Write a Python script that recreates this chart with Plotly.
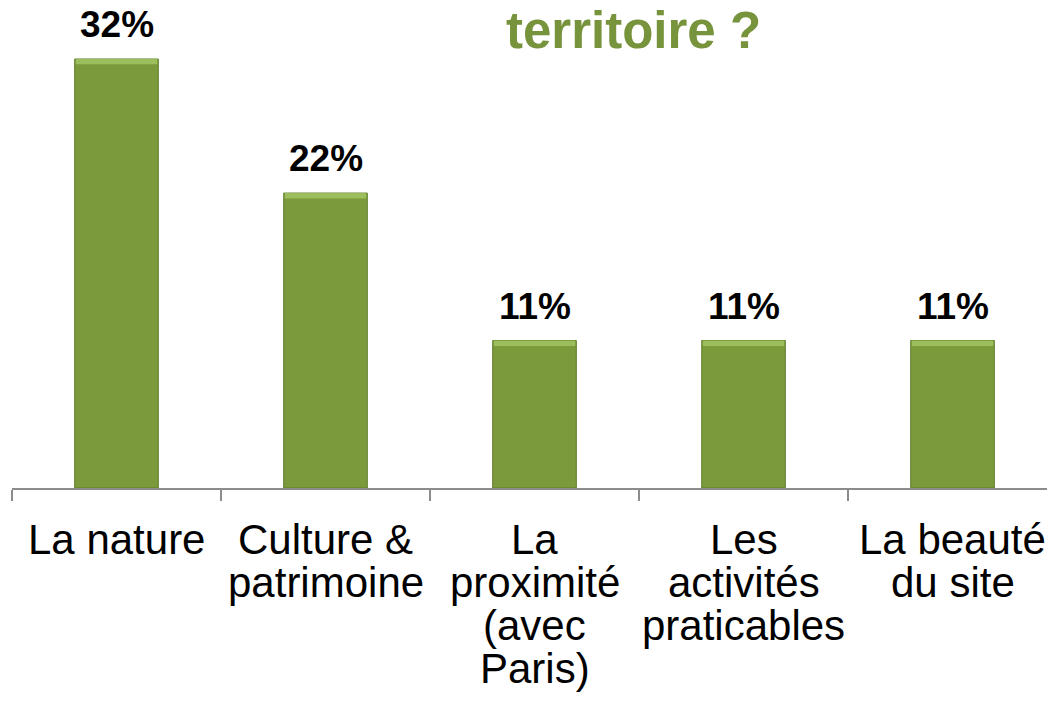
import plotly.graph_objects as go

categories = ["La nature", "Culture & patrimoine", "La proximité (avec Paris)",
              "Les activités praticables", "La beauté du site"]
label_lines = [["La nature"], ["Culture &", "patrimoine"], ["La", "proximité", "(avec", "Paris)"],
               ["Les", "activités", "praticables"], ["La beauté", "du site"]]
values = [32, 22, 11, 11, 11]
value_labels = ["32%", "22%", "11%", "11%", "11%"]
title_text = "territoire ?"

FONT = "Arial, Liberation Sans, sans-serif"
GREEN = "#7A9A3C"
BEVEL = 0.4  # height (in axis units) of the light top bevel strip

fig = go.Figure()
fig.add_trace(go.Bar(
    x=categories, y=values,
    marker=dict(color=GREEN, line=dict(color="#5F7D2B", width=1)),
    width=0.4, hoverinfo="skip",
))
fig.add_trace(go.Bar(
    x=categories, y=[BEVEL] * len(values), base=[v - BEVEL for v in values],
    marker=dict(color="#A2C462", line=dict(width=0)),
    width=0.39, hoverinfo="skip", opacity=0.85,
))

annotations = []
for cat, v, lab in zip(categories, values, value_labels):
    annotations.append(dict(x=cat, y=v, xref="x", yref="y", text=f"<b>{lab}</b>",
                            showarrow=False, yanchor="bottom", yshift=12,
                            font=dict(family=FONT, size=37, color="#000000")))
for cat, lines in zip(categories, label_lines):
    for i, line in enumerate(lines):
        annotations.append(dict(x=cat, y=0, xref="x", yref="paper", text=line,
                                showarrow=False, yanchor="top", yshift=-26 - 43 * i,
                                font=dict(family=FONT, size=42, color="#000000")))
annotations.append(dict(x=0.6, y=1, xref="paper", yref="paper", text=f"<b>{title_text}</b>",
                        showarrow=False, yanchor="top", xanchor="center", yshift=0,
                        font=dict(family=FONT, size=51, color="#77933C")))

fig.update_layout(
    width=1047, height=704,
    margin=dict(l=12, r=0, t=0, b=216),
    paper_bgcolor="white", plot_bgcolor="white",
    showlegend=False, barmode="overlay",
    annotations=annotations,
    xaxis=dict(type="category", range=[-0.5, 4.452], showline=True, linecolor="#8C8C8C",
               linewidth=1.5, ticks="outside", tickson="boundaries", ticklen=11,
               tickcolor="#8C8C8C", tickwidth=1.5, showticklabels=False, showgrid=False,
               zeroline=False),
    yaxis=dict(range=[0, 36.4], visible=False, showgrid=False, zeroline=False),
)
fig.write_html("out.html", config={"displayModeBar": False},
               post_script="document.body.style.margin='0';document.body.style.padding='0';")
